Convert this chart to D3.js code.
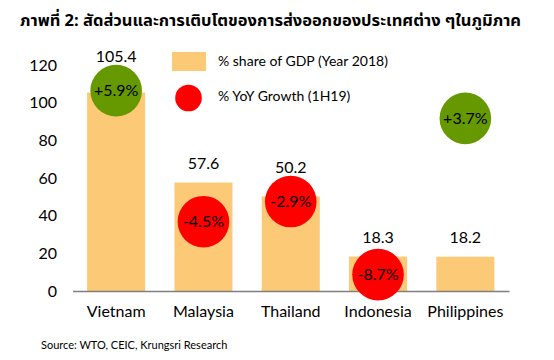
<!DOCTYPE html>
<html><head><meta charset="utf-8">
<script src="https://cdn.jsdelivr.net/npm/d3@7"></script>
<style>
body{margin:0;background:#fff;}
svg{display:block;}
text{font-family:Lato, "Open Sans", sans-serif;fill:#000;}
</style></head>
<body><svg id="c" width="554" height="360"></svg>
<script>
// ---- data ----
const categories = ["Vietnam","Malaysia","Thailand","Indonesia","Philippines"];
const shareOfGDP = [105.4, 57.6, 50.2, 18.3, 18.2];
const yoyGrowth = [5.9, -4.5, -2.9, -8.7, 3.7];
const growthLabels = ["+5.9%","-4.5%","-2.9%","-8.7%","+3.7%"];
const yTicks = [0,20,40,60,80,100,120];
const titleText = "ภาพที่ 2: สัดส่วนและการเติบโตของการส่งออกของประเทศต่าง ๆในภูมิภาค";
const legendLabels = ["% share of GDP (Year 2018)","% YoY Growth (1H19)"];
const sourceText = "Source: WTO, CEIC, Krungsri Research";

// ---- drawing ----
const svg = d3.select("#c");
const barColor = "#FCC977", red = "#FF0000", green = "#669900";
const x = d3.scaleBand().domain(categories).range([72.5, 509]).paddingInner(0.335).paddingOuter(0.1675);
const y = d3.scaleLinear().domain([0,120]).range([291, 65]);
const y2 = d3.scaleLinear().domain([-10,10]).range([291, 39]);
const r = 25.8;

svg.append("text").attr("x",20).attr("y",26).attr("font-size",16.5).attr("font-weight","bold")
  .style("font-family","Tahoma, 'Noto Sans Thai', 'Noto Sans', 'DejaVu Sans', sans-serif").text(titleText);

// y tick labels
svg.append("g").selectAll("text").data(yTicks).join("text")
  .attr("x",57).attr("y",d=>y(d)).attr("dy","0.35em").attr("text-anchor","end")
  .attr("font-size",16).text(d=>d);

// bars
svg.append("g").selectAll("rect").data(categories).join("rect")
  .attr("x",d=>x(d)).attr("width",x.bandwidth())
  .attr("y",(d,i)=>y(shareOfGDP[i])).attr("height",(d,i)=>y(0)-y(shareOfGDP[i]))
  .attr("fill",barColor);

// axis line
const xAxis = d3.axisBottom(x).tickSize(0).tickPadding(15);
const gx = svg.append("g").attr("transform",`translate(0,${y(0)})`).call(xAxis);
gx.select(".domain").attr("stroke","#7f7f7f").attr("stroke-width",1.3);
gx.selectAll("text").attr("font-size",16).style("font-family","Lato, sans-serif").attr("dy","0.71em");

// bubbles
const bub = svg.append("g");
bub.selectAll("circle").data(categories).join("circle")
  .attr("cx",d=>x(d)+x.bandwidth()/2).attr("cy",(d,i)=>y2(yoyGrowth[i]))
  .attr("r",r).attr("fill",(d,i)=>yoyGrowth[i]>=0?green:red);
bub.selectAll("text").data(categories).join("text")
  .attr("x",d=>x(d)+x.bandwidth()/2).attr("y",(d,i)=>y2(yoyGrowth[i])).attr("dy","0.35em")
  .attr("text-anchor","middle").attr("font-size",16).text((d,i)=>growthLabels[i]);

// value labels (lifted above bubbles when they overlap)
svg.append("g").selectAll("text").data(categories).join("text")
  .attr("x",d=>x(d)+x.bandwidth()/2)
  .attr("y",(d,i)=>{
    let ly = y(shareOfGDP[i]) - 19;
    const bt = y2(yoyGrowth[i]) - r, bb = y2(yoyGrowth[i]) + r;
    if (bb > ly - 8 && bt < ly + 8) ly = bt - 8;
    return ly;
  })
  .attr("dy","0.35em").attr("text-anchor","middle").attr("font-size",16)
  .text((d,i)=>shareOfGDP[i].toFixed(1));

// legend
const lg = svg.append("g");
lg.append("rect").attr("x",172).attr("y",52).attr("width",34).attr("height",19).attr("fill",barColor);
lg.append("circle").attr("cx",188.5).attr("cy",98).attr("r",13.3).attr("fill",red);
lg.selectAll("text").data(legendLabels).join("text")
  .attr("x",218).attr("y",(d,i)=>i?96:61).attr("dy","0.35em").attr("font-size",14).text(d=>d);

// source
svg.append("text").attr("x",41).attr("y",345).attr("dy","0.35em").attr("font-size",11).text(sourceText);
</script></body></html>
